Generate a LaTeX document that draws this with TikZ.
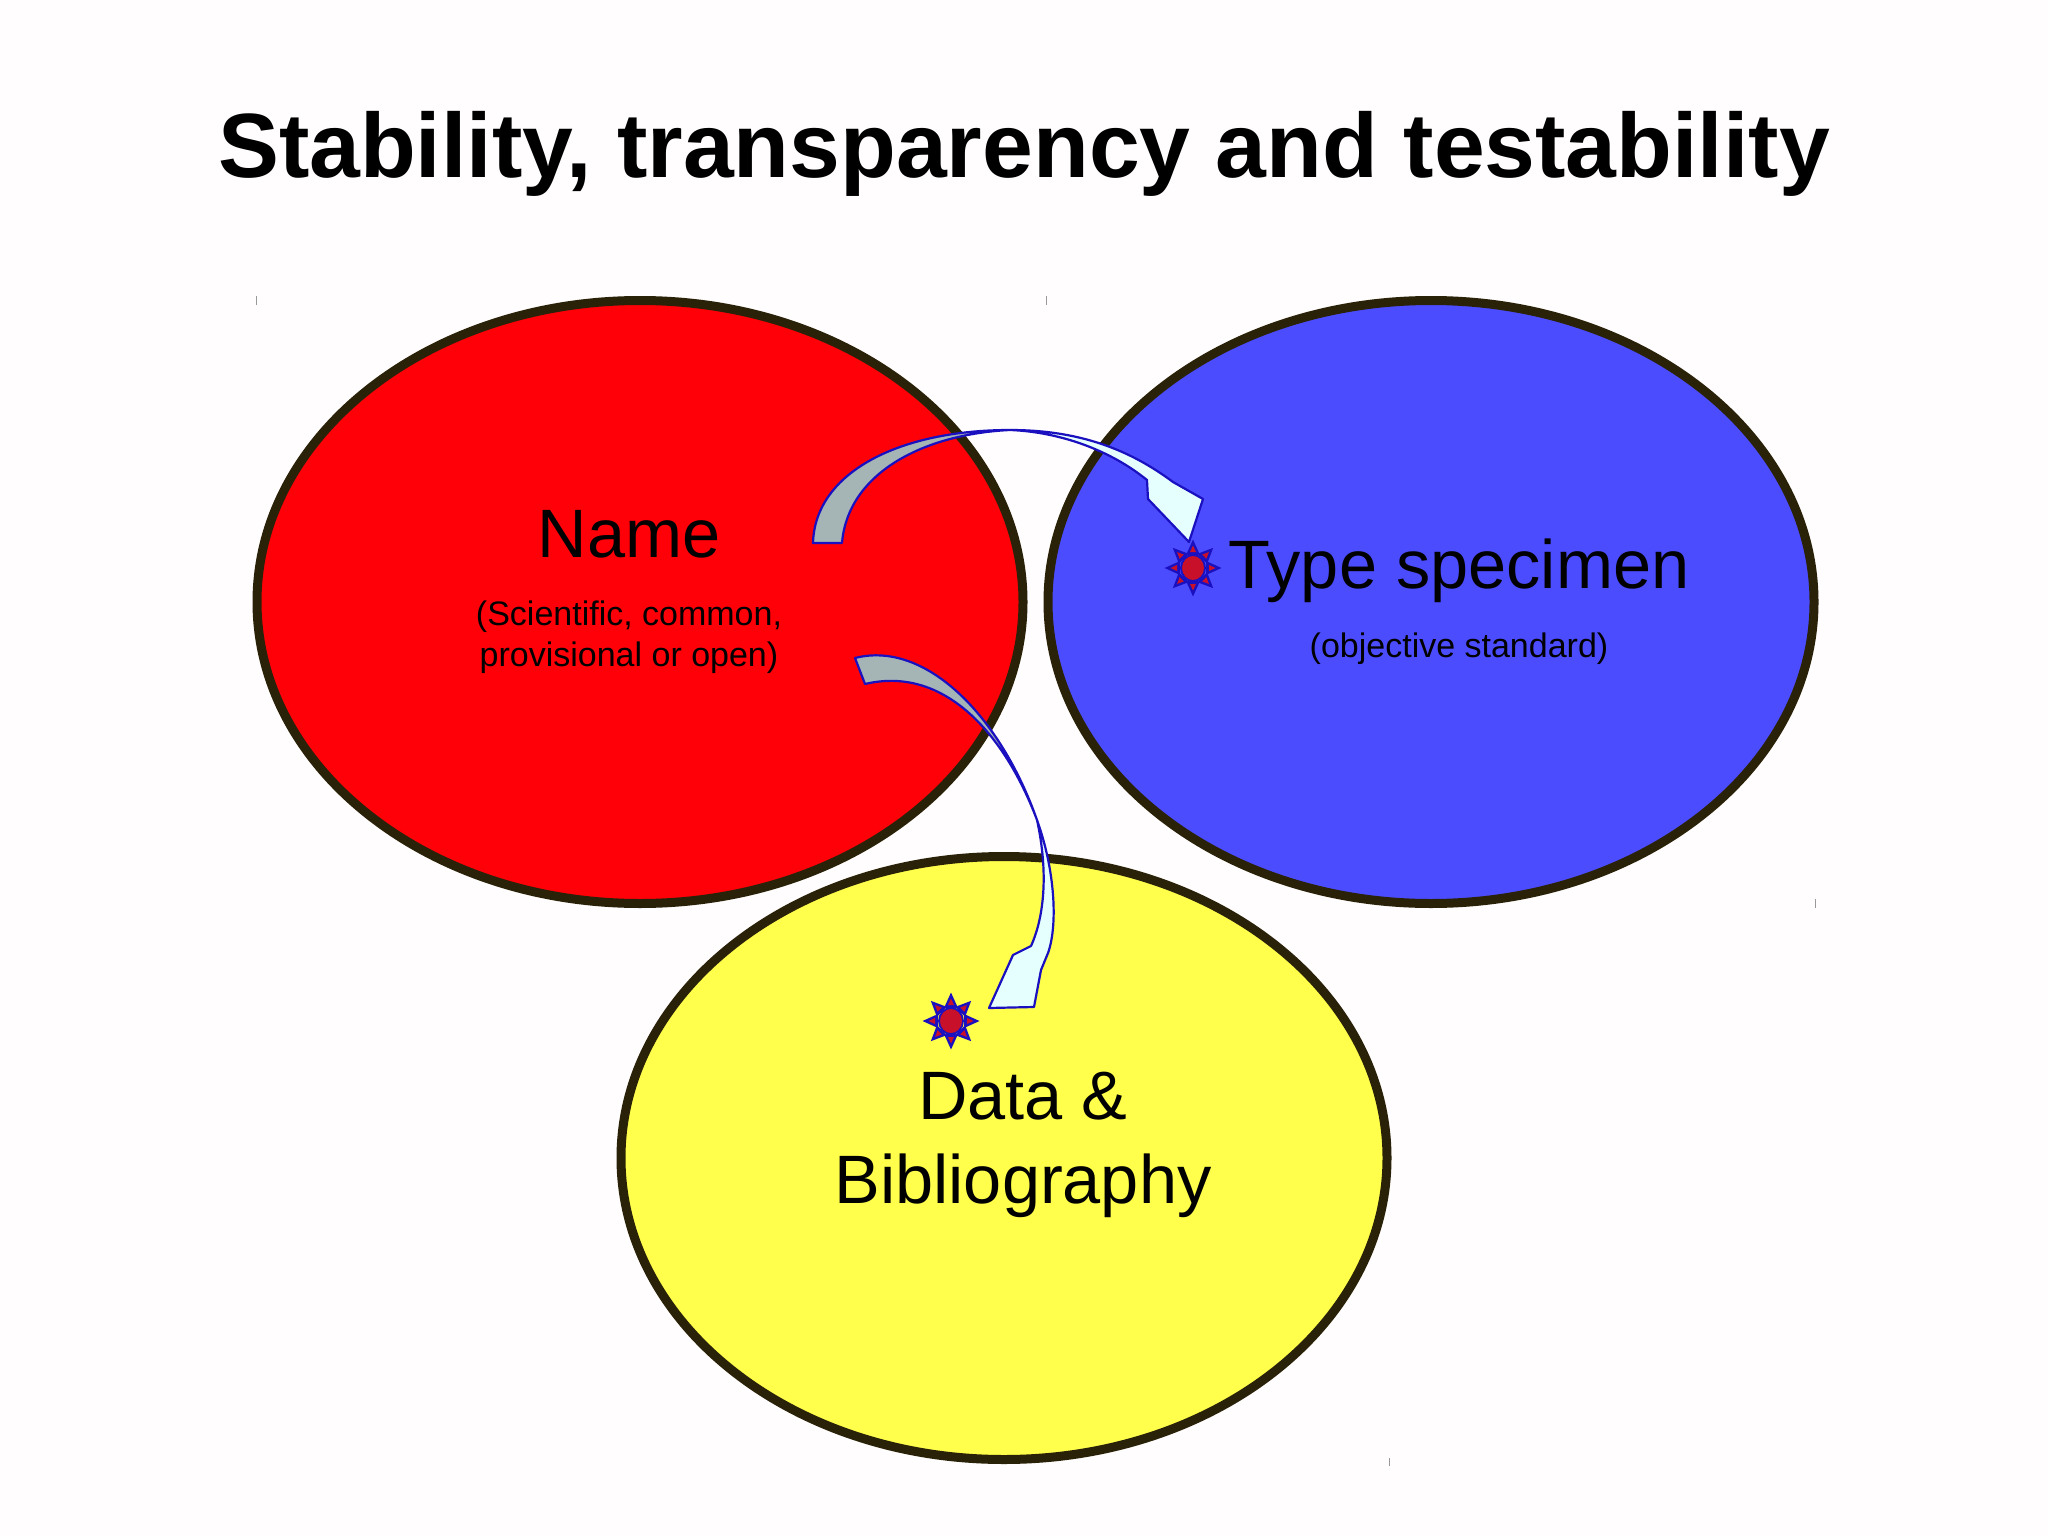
\documentclass[tikz,border=0pt]{standalone}
\usepackage{fontspec}
\setmainfont{Liberation Sans}
\definecolor{bgc}{HTML}{FFFDFD}
\definecolor{rimc}{HTML}{2A2208}
\definecolor{redc}{HTML}{FF0009}
\definecolor{bluec}{HTML}{4C4CFF}
\definecolor{yelc}{HTML}{FFFF4C}
\definecolor{linec}{HTML}{1A10C0}
\definecolor{grayc}{HTML}{A5B5B5}
\definecolor{palec}{HTML}{E5FFFF}
\definecolor{sunc}{HTML}{C8102A}
\tikzset{
  blob/.style={ellipse,draw=rimc,line width=9pt,minimum width=766pt,minimum height=603pt,inner sep=0pt,outer sep=0pt},
  bigtext/.style={inner sep=0pt,font=\fontsize{68.5}{84}\selectfont,align=center,text=black},
  smalltext/.style={inner sep=0pt,font=\fontsize{34}{41}\selectfont,align=center,text=black},
  armline/.style={draw=linec,line width=2.2pt,line join=round},
  tick/.style={draw=gray!80,line width=0.8pt},
  sunstar/.pic={
    \foreach \a in {0,45,...,315}{
      \fill[linec,rotate=\a] (13,-7) -- (28.5,0) -- (13,7) -- cycle;
      \fill[sunc,rotate=\a] (16,-3) -- (22.5,0) -- (16,3) -- cycle;
    }
    \fill[sunc,draw=linec,line width=1.8pt] (0,0) ellipse (12 and 13);
  }
}
\usetikzlibrary{shapes.geometric}
\begin{document}
\begin{tikzpicture}[x=1pt,y=-1pt]
\fill[bgc] (0,0) rectangle (2048,1536);
\useasboundingbox (0,0) rectangle (2048,1536);
\node[anchor=base,inner sep=0pt,font=\bfseries\fontsize{91.3}{100}\selectfont] (title) at (1024,177) {Stability, transparency and testability};

\node[blob,fill=redc] (red) at (640,602) {};
\node[blob,fill=bluec] (blue) at (1431,602) {};
\node[blob,fill=yelc] (yellow) at (1004,1158) {};

\draw[tick] (256,296) -- (256,305);
\draw[tick] (1046,296) -- (1046,305);
\draw[tick] (1815,899) -- (1815,908);
\draw[tick] (1389,1458) -- (1389,1466);

\node[bigtext] (name) at (629,534) {Name};
\node[smalltext] (namesub) at (629,637) {(Scientific, common,\\provisional or open)};
\node[bigtext] (type) at (1459,571) {Type specimen};
\node[smalltext] (typesub) at (1459,649) {(objective standard)};
\node[bigtext] (data) at (1023,1145) {Data \&\\Bibliography};

% upper arm
\path[fill=grayc] (813,543) .. controls (815,472) and (900,430) .. (1010,430)
  .. controls (925,434) and (848,472) .. (842,543) -- cycle;
\path[fill=palec] (1010,430) .. controls (1080,430) and (1130,450) .. (1173,482)
  -- (1203,499) -- (1189,542) -- (1148,499) -- (1147,480)
  .. controls (1110,450) and (1060,432) .. (1010,430) -- cycle;
\draw[armline] (813,543) .. controls (815,472) and (900,430) .. (1010,430)
  .. controls (1080,430) and (1130,450) .. (1173,482)
  -- (1203,499) -- (1189,542) -- (1148,499) -- (1147,480)
  .. controls (1110,450) and (1060,432) .. (1010,430)
  .. controls (925,434) and (848,472) .. (842,543) -- cycle;

% lower arm
\path[fill=grayc] (855,658) .. controls (925,640) and (1000,715) .. (1037,820)
  .. controls (1005,735) and (945,665) .. (865,684) -- cycle;
\path[fill=palec] (1037,820) .. controls (1055,870) and (1058,925) .. (1048,953)
  -- (1041,970) -- (1034,1007) -- (989,1008) -- (1013,955) -- (1031,946)
  .. controls (1045,915) and (1048,870) .. (1037,820) -- cycle;
\draw[armline] (855,658) .. controls (925,640) and (1000,715) .. (1037,820)
  .. controls (1055,870) and (1058,925) .. (1048,953)
  -- (1041,970) -- (1034,1007) -- (989,1008) -- (1013,955) -- (1031,946)
  .. controls (1045,915) and (1048,870) .. (1037,820)
  .. controls (1005,735) and (945,665) .. (865,684) -- cycle;

\pic at (1193,568) {sunstar};
\pic at (951,1021) {sunstar};
\end{tikzpicture}
\end{document}
